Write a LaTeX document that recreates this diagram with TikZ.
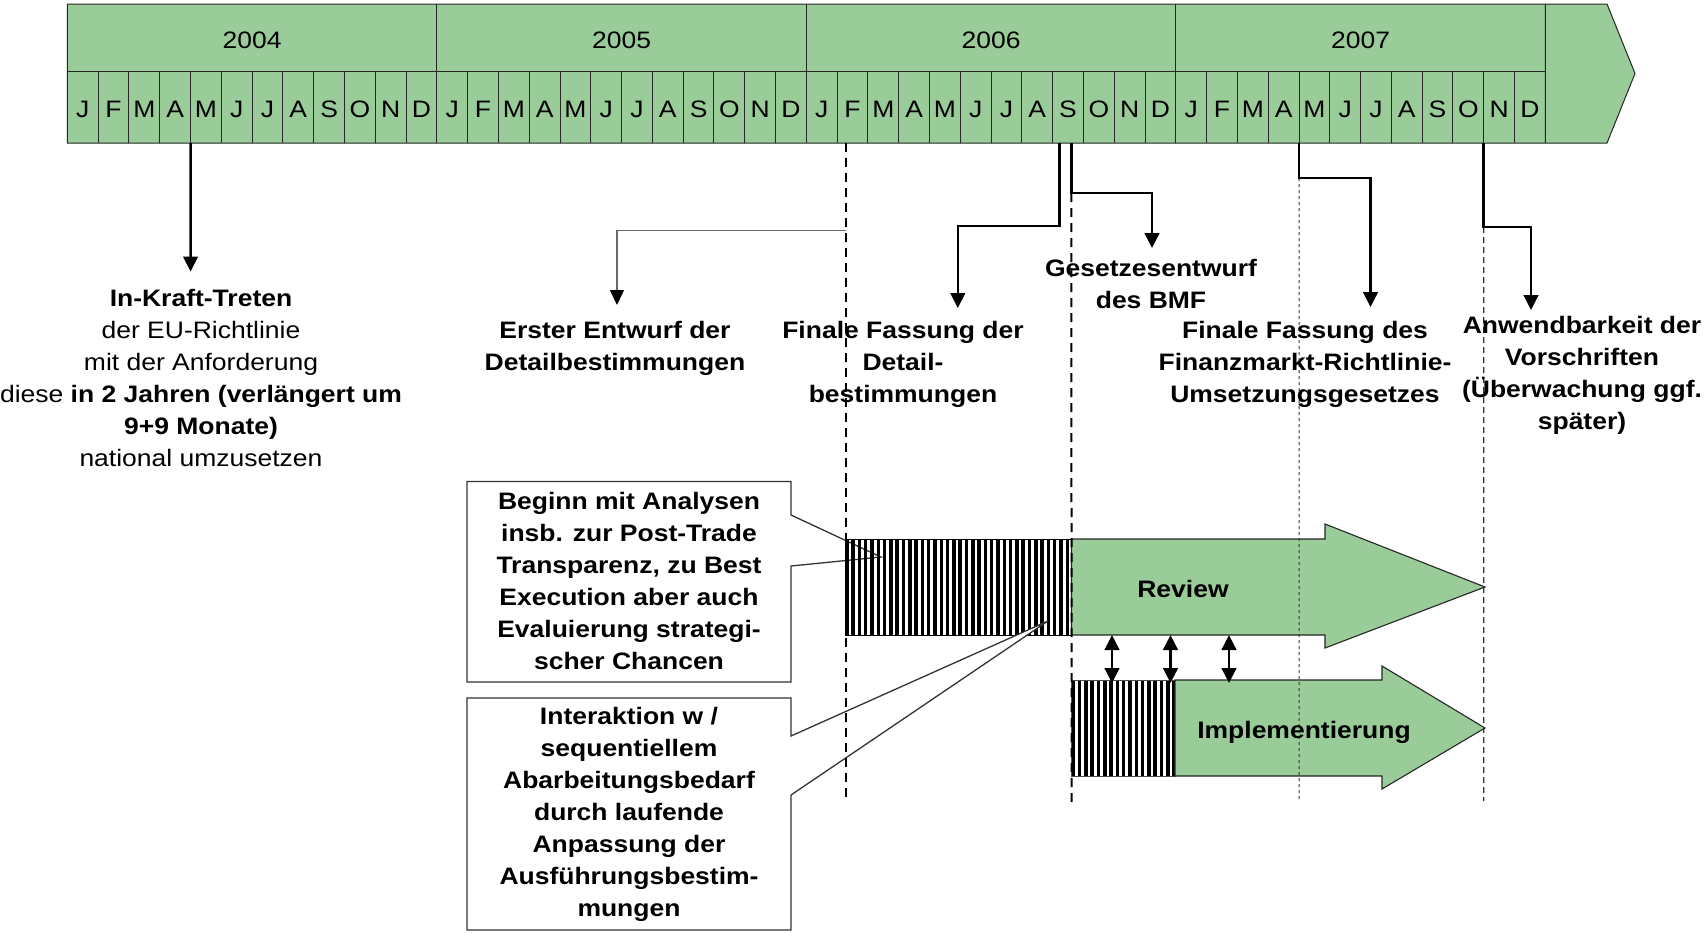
\documentclass[tikz,border=0pt]{standalone}
\usepackage{fontspec}
\setmainfont{Liberation Sans}[FakeStretch=1.113]
\usetikzlibrary{arrows.meta,calc}
\definecolor{tlgreen}{RGB}{153,204,153}
\definecolor{greyline}{RGB}{105,105,105}
\begin{document}
\begin{tikzpicture}[x=0.5pt,y=-0.5pt,
  every node/.style={inner sep=0pt,outer sep=0pt},
  tlline/.style={draw=black!85,line width=0.5pt},
  yearcell/.style={minimum width=184.74pt,minimum height=33.5pt,text height=10.8pt,text depth=0pt,font=\fontsize{11.9}{14}\selectfont},
  monthcell/.style={minimum width=15.395pt,minimum height=36pt,text height=10.3pt,text depth=0pt,font=\fontsize{11.9}{14}\selectfont},
  lbl/.style={align=center,anchor=north,font=\fontsize{11.9}{16}\selectfont\bfseries},
  lblr/.style={align=center,anchor=north,font=\fontsize{11.9}{16}\selectfont},
  blbl/.style={anchor=base,font=\fontsize{11.9}{16}\selectfont\bfseries},
  conn/.style={line width=1.3pt,-{Triangle[width=7.3pt,length=7.5pt]}},
  connthin/.style={draw=greyline,line width=0.7pt,-{Triangle[width=7pt,length=7.5pt,color=black]}},
  guideA/.style={line width=1pt,dash pattern=on 4.5pt off 3pt},
  guideC/.style={draw=black!80,line width=0.5pt,dash pattern=on 1.5pt off 1.5pt},
  guideD/.style={draw=black!80,line width=0.7pt,dash pattern=on 3pt off 2pt},
  bidir/.style={line width=1.3pt,{Triangle[width=7.3pt,length=7.5pt]}-{Triangle[width=7.3pt,length=7.5pt]}},
  greenarrow/.style={fill=tlgreen,draw=black!85,line width=0.55pt},
  callbox/.style={fill=white,draw=black!80,line width=0.65pt}
]
\useasboundingbox (0,0) rectangle (1704,933);

% ---------- timeline ----------
\path[tlline,fill=tlgreen] (67.4,4) -- (1607,4) -- (1635,73.5) -- (1607,143) -- (67.4,143) -- cycle;
\foreach \yr [count=\i from 0] in {2004,2005,2006,2007}{
  \node[yearcell] (y\yr) at ({67.4+(\i*12+6)*30.79},37.5) {\yr};
}
\foreach \yi in {0,1,2,3}{
  \foreach \ml [count=\mi from 0] in {J,F,M,A,M,J,J,A,S,O,N,D}{
    \pgfmathtruncatemacro{\idx}{\yi*12+\mi}
    \node[monthcell] (m\idx) at ({67.4+(\idx+0.5)*30.79},107) {\ml};
  }
}
\draw[tlline] (m0.north west) -- (m47.north east);
\foreach \i in {1,...,47}{\draw[tlline] (m\i.south west) -- (m\i.north west);}
\draw[tlline] (m47.south east) -- (y2007.north east);
\foreach \yr in {2005,2006,2007}{\draw[tlline] (y\yr.south west) -- (y\yr.north west);}

% ---------- callout 1 (under hatch) ----------
\path[callbox] (467,481.5) -- (791,481.5) -- (791,515) -- (881,557) -- (791,566) -- (791,682) -- (467,682) -- cycle;

% ---------- review bar ----------
\begin{scope}
  \clip (845,539) rectangle (1071.5,635);
  \foreach \x in {845,851.3,...,1076}{\fill (\x,539) rectangle ++(3.5,96);}
\end{scope}
\draw[line width=0.4pt] (845,539) rectangle (1071.5,635);
\path[greenarrow] (1071.5,539) -- (1325,539) -- (1325,524) -- (1485,587) -- (1325,648) -- (1325,635) -- (1071.5,635) -- cycle;

% ---------- implementation bar ----------
\begin{scope}
  \clip (1071.5,680) rectangle (1175,776);
  \foreach \x in {1071.5,1077.8,...,1180}{\fill (\x,680) rectangle ++(3.5,96);}
\end{scope}
\draw[line width=0.4pt,draw=black!70] (1071.5,680) rectangle (1175,776);
\path[greenarrow] (1175,680) -- (1382,680) -- (1382,666) -- (1485,728) -- (1382,789) -- (1382,776) -- (1175,776) -- cycle;

% ---------- callout 2 ----------
\path[callbox] (467,698) -- (791,698) -- (791,736) -- (1048,621) -- (791,795) -- (791,930) -- (467,930) -- cycle;

% ---------- guide lines ----------
\coordinate (gAtop) at (846,143);
\coordinate (gAbot) at (846,800);
\coordinate (gsStart) at ($(m32.south west)+(18.8,0)$);
\coordinate (gsKnee) at (1152,193);
\coordinate (gsEnd) at (1152,248);
\coordinate (gBbot) at (1071.5,805);
\coordinate (fsKnee) at (1370.5,178);
\coordinate (fsEnd) at (1370.5,307);
\coordinate (gCbot) at (1299,799);
\coordinate (awKnee) at (1531,227);
\coordinate (awEnd) at (1531,310);
\coordinate (gDbot) at (1483.7,801);
\draw[guideA] (gAtop) -- (gAbot);
\draw[guideA] (gsStart |- gsKnee) -- (gBbot);
\draw[guideC] (m40.south west |- fsKnee) -- (gCbot);
\draw[guideD] (m46.south west |- awKnee) -- (gDbot);

% ---------- connectors ----------
\coordinate (kraftEnd) at (190.56,271.5);
\draw[conn] (m4.south west) -- (kraftEnd);

\coordinate (erstStart) at (846,230.5);
\coordinate (erstEnd) at (617,305);
\draw[connthin] (erstStart) -| (erstEnd);

\coordinate (fdStart) at ($(m32.south west)+(6.8,0)$);
\coordinate (fdKnee) at (957.8,226);
\coordinate (fdEnd) at (957.8,308);
\draw[conn] (fdStart) |- (fdKnee) -- (fdEnd);

\draw[conn] (gsStart) |- (gsKnee) -- (gsEnd);
\draw[conn] (m40.south west) |- (fsKnee) -- (fsEnd);
\draw[conn] (m46.south west) |- (awKnee) -- (awEnd);

% ---------- interaction arrows ----------
\coordinate (ia1) at (1112,635);   \coordinate (ib1) at (1112,683);
\coordinate (ia2) at (1170.5,635); \coordinate (ib2) at (1170.5,683);
\coordinate (ia3) at (1229,635);   \coordinate (ib3) at (1229,683);
\draw[bidir] (ia1) -- (ib1);
\draw[bidir] (ia2) -- (ib2);
\draw[bidir] (ia3) -- (ib3);

% ---------- labels ----------
\node[lblr] (kraft) at (201,289.5) {{\bfseries In-Kraft-Treten}\\der EU-Richtlinie\\mit der Anforderung\\diese {\bfseries in 2 Jahren (verlängert um}\\{\bfseries 9+9 Monate)}\\national umzusetzen};
\node[lbl] (erster) at (615,321) {Erster Entwurf der\\Detailbestimmungen};
\node[lbl] (finaleD) at (903,321) {Finale Fassung der\\Detail-\\bestimmungen};
\node[lbl] (gesetz) at (1151,259.5) {Gesetzesentwurf\\des BMF};
\node[lbl] (finaleG) at (1305,321.5) {Finale Fassung des\\Finanzmarkt-Richtlinie-\\Umsetzungsgesetzes};
\node[lbl] (anwend) at (1582,316.5) {Anwendbarkeit der\\Vorschriften\\(Überwachung ggf.\\später)};

\node[lbl] (beginn) at (629,492) {Beginn mit Analysen\\insb. zur Post-Trade\\Transparenz, zu Best\\Execution aber auch\\Evaluierung strategi-\\scher Chancen};
\node[lbl] (interak) at (629,707.5) {Interaktion w /\\sequentiellem\\Abarbeitungsbedarf\\durch laufende\\Anpassung der\\Ausführungsbestim-\\mungen};

\node[blbl] (review) at (1183,597) {Review};
\node[blbl] (implem) at (1304,738) {Implementierung};
\end{tikzpicture}
\end{document}
